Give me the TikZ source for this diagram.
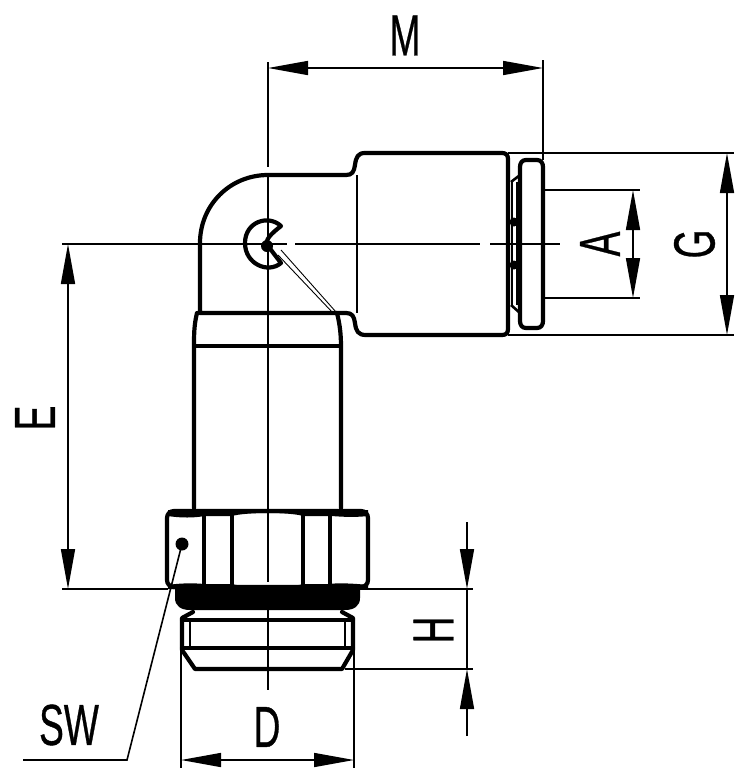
\documentclass[tikz,border=0pt]{standalone}
\usepackage{fontspec}
\setmainfont{Liberation Sans}[FakeBold=0.7]
\usetikzlibrary{arrows.meta}
\tikzset{
  x=1pt,y=-1pt,
  thick line/.style={line width=4.2pt,line join=round,line cap=round,color=black},
  med line/.style={line width=2.6pt,line join=round,color=black},
  thin line/.style={line width=1.6pt,color=black},
  dim/.style={line width=1.6pt,color=black},
  dimarrow/.style={line width=1.6pt,color=black,-{Triangle[length=40pt,width=14pt]}},
  dimboth/.style={line width=1.6pt,color=black,{Triangle[length=40pt,width=14pt]}-{Triangle[length=40pt,width=14pt]}},
  lab/.style={inner sep=0pt,font=\fontsize{58}{58}\selectfont}
}
\newcommand{\nar}[1]{\scalebox{0.64}[1]{#1}}
\begin{document}
\begin{tikzpicture}
\useasboundingbox (0,0) rectangle (748,780);
\fill[white] (0,0) rectangle (748,780);
% centre lines
\draw[thin line] (268,62) -- (268,167);
\draw[thin line] (268,173) -- (268,582);
\draw[thin line] (268,610) -- (268,690);
\draw[thin line] (62,244) -- (287,244);
\draw[thin line] (295,244) -- (480,244);
\draw[thin line] (490,244) -- (560,244);
% elbow body
\draw[thick line] (200,313) -- (200,243) .. controls (200,205) and (230,175) .. (268,175) -- (346,175)
  .. controls (352,175) and (354,172) .. (355,165) .. controls (356,157) and (358,153) .. (365,153)
  -- (502,153) .. controls (506,153) and (508,155) .. (508,159) -- (508,329)
  .. controls (508,333) and (506,335) .. (502,335) -- (366,335)
  .. controls (358,335) and (356,331) .. (355,323) .. controls (354,316) and (352,313) .. (346,313) -- (200,313);
\draw[thin line] (357,175) -- (357,313);
% flange
\draw[thick line] (526,160) -- (537,160) .. controls (541,160) and (543,163) .. (543,167) -- (543,321)
  .. controls (543,325) and (541,328) .. (537,328) -- (526,328) .. controls (522,328) and (520,325) .. (520,321)
  -- (520,167) .. controls (520,163) and (522,160) .. (526,160) -- cycle;
\draw[med line] (511,182) -- (520,175);
\draw[med line] (511,305) -- (520,313);
\draw[med line] (512,182) -- (512,305);
\draw[med line] (517,182) -- (517,305);
\fill (514,222) circle (4.5);
\fill (514,265) circle (4.5);
% eye symbol
\draw[thick line] (281,226) .. controls (268,214) and (245,222) .. (245,243)
  .. controls (245,264) and (268,274) .. (281,263) -- (268,246)
  .. controls (264,240) and (271,234) .. (281,226) -- cycle;
\fill (267,246) circle (6);
% double leader
\draw[line width=.9pt] (281,250) -- (336,312);
\draw[line width=.9pt] (278,255) -- (333,313);
% neck
\draw[thick line] (197,313) .. controls (194,325) and (194,335) .. (194,347) -- (194,508);
\draw[thick line] (337,313) .. controls (340,325) and (341,335) .. (341,347) -- (341,508);
\draw[thick line] (195,346) -- (340,346);
% nut
\draw[thick line] (174,511) -- (361,511) .. controls (365,511) and (368,514) .. (368,518) -- (368,580)
  .. controls (368,584) and (365,587) .. (361,587) -- (174,587)
  .. controls (170,587) and (167,584) .. (167,580) -- (167,518) .. controls (167,514) and (170,511) .. (174,511) -- cycle;
\fill (168,510) -- (368,510) -- (368,516) .. controls (350,518) and (335,516) .. (330,516) -- (303,516)
  .. controls (290,512) and (246,512) .. (232,516) -- (204,516) .. controls (195,518) and (180,518) .. (168,516) -- cycle;
\fill (168,589) -- (368,589) -- (368,585) .. controls (350,583) and (335,583) .. (330,584) -- (303,584)
  .. controls (290,588) and (246,588) .. (232,584) -- (204,584) .. controls (195,583) and (180,583) .. (168,585) -- cycle;
\draw[thick line] (204,514) -- (204,586);
\draw[thick line] (232,514) -- (232,586);
\draw[thick line] (303,514) -- (303,586);
\draw[thick line] (330,514) -- (330,586);
% sealing ring
\fill (175,588) -- (360,588) -- (360,598) .. controls (360,606) and (354,610) .. (345,610)
  -- (190,610) .. controls (181,610) and (175,606) .. (175,598) -- cycle;
% thread end
\draw[thick line] (193,612) -- (182,618) -- (182,650) -- (195,669) -- (342,669) -- (353,650) -- (353,618) -- (342,612);
\draw[thick line] (182,620) -- (353,620);
\draw[thick line] (182,648) -- (353,648);
\draw[thin line] (190,620) -- (190,648);
\draw[thin line] (345,620) -- (345,648);
% dimension M
\coordinate (mL) at (268,68);
\coordinate (mR) at (543,68);
\draw[dim] (543,60) -- (543,160);
\draw[dimboth] (mL) -- (mR);
\node[lab] (labM) at (405,35.5) {\nar{M}};
% dimension G
\coordinate (gT) at (727,153);
\coordinate (gB) at (727,335);
\draw[dim] (508,153) -- (734,153);
\draw[dim] (508,335) -- (734,335);
\draw[dimboth] (gT) -- (gB);
\node[lab,rotate=90] (labG) at (694.5,244) {\nar{G}};
% dimension A
\coordinate (aT) at (633,190);
\coordinate (aB) at (633,298);
\draw[dim] (543,190) -- (640,190);
\draw[dim] (543,298) -- (640,298);
\draw[dimboth] (aT) -- (aB);
\node[lab,rotate=90] (labA) at (600,244) {\nar{A}};
% dimension E
\coordinate (eT) at (68,244);
\coordinate (eB) at (68,589);
\draw[dimboth] (eT) -- (eB);
\draw[dim] (62,589) -- (168,589);
\node[lab,rotate=90] (labE) at (35,418) {\nar{E}};
% dimension H
\coordinate (hT0) at (467,522);
\coordinate (hT) at (467,589);
\coordinate (hB0) at (467,736);
\coordinate (hB) at (467,669);
\draw[dim] (360,589) -- (473,589);
\draw[dim] (345,669) -- (473,669);
\draw[dim] (hT) -- (hB);
\draw[dimarrow] (hT0) -- (hT);
\draw[dimarrow] (hB0) -- (hB);
\node[lab,rotate=90] (labH) at (433.5,630) {\nar{H}};
% dimension D
\coordinate (dL) at (181,760);
\coordinate (dR) at (354,760);
\draw[dim] (181,650) -- (181,768);
\draw[dim] (354,650) -- (354,768);
\draw[dimboth] (dL) -- (dR);
\node[lab] (labD) at (267,727) {\nar{D}};
% SW leader
\fill (182,544) circle (6.5);
\coordinate (swA) at (182,544);
\coordinate (swB) at (127,760);
\coordinate (swC) at (23,760);
\draw[dim] (swA) -- (swB) -- (swC);
\node[lab] (labSW) at (69,725) {\nar{SW}};
\end{tikzpicture}
\end{document}
